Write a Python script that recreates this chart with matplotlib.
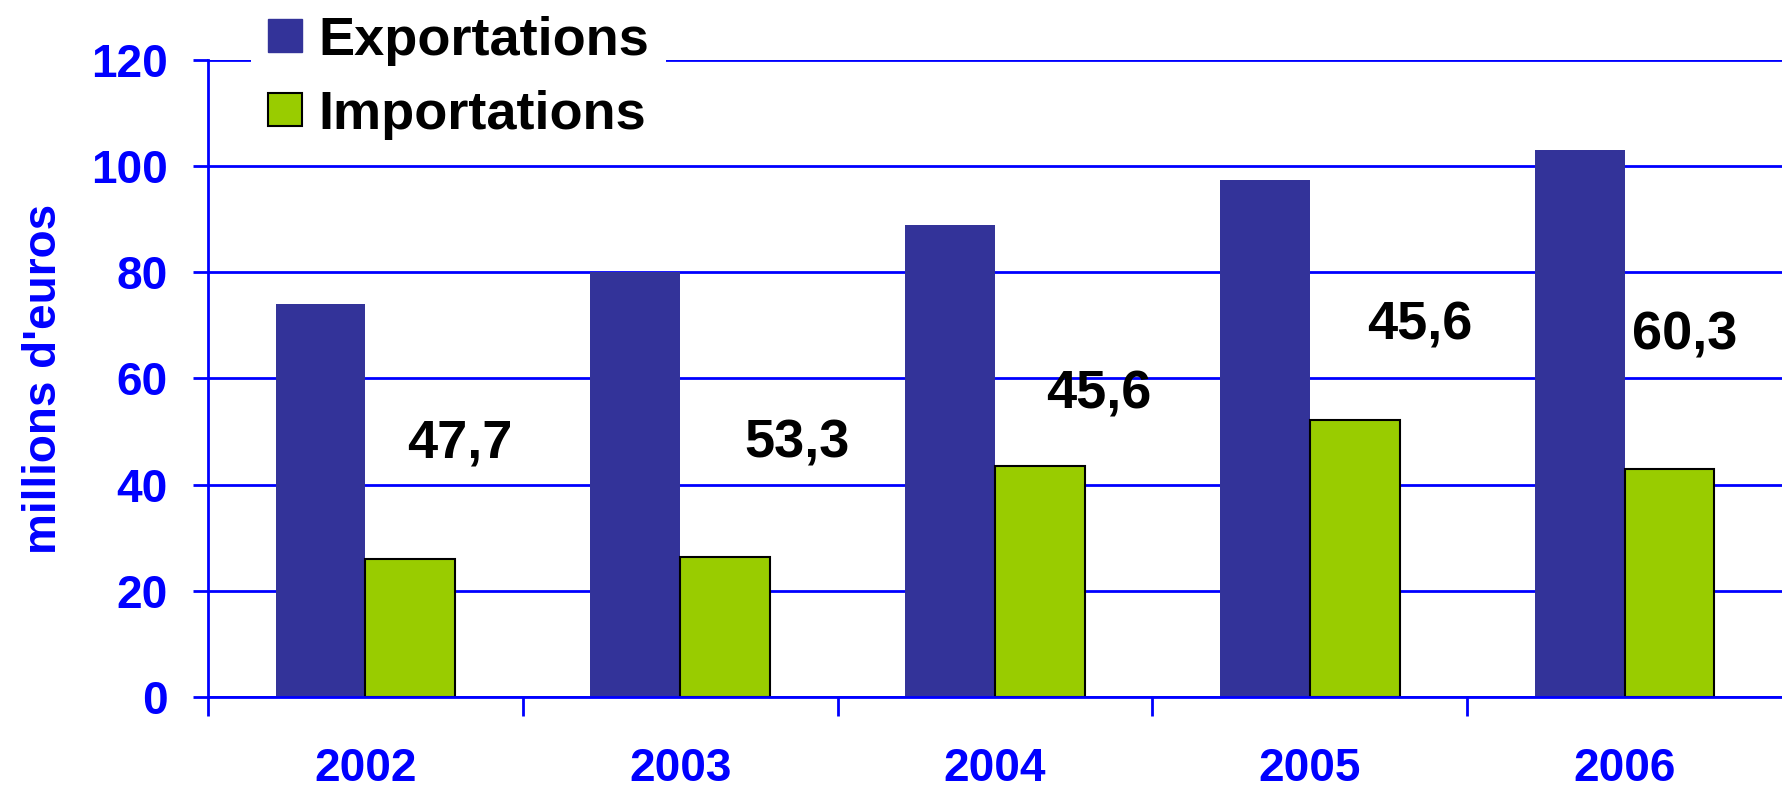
import matplotlib

matplotlib.use("Agg")
import matplotlib.pyplot as plt
import numpy as np
from matplotlib.patches import Patch

plt.rcParams["font.family"] = ["Liberation Sans", "DejaVu Sans"]
plt.rcParams["font.weight"] = "bold"

YEARS = ["2002", "2003", "2004", "2005", "2006"]
EXPORTS = [74.0, 80.0, 89.0, 97.5, 103.0]
IMPORTS = [26.0, 26.4, 43.5, 52.1, 42.9]

# floating value labels, placed as in the original slide
LABELS = ["47,7", "53,3", "45,6", "45,6", "60,3"]
LABEL_DX = [0.30, 0.37, 0.33, 0.35, 0.19]
LABEL_Y = [47.8, 47.8, 57.0, 69.9, 68.1]

BLUE = "#0000FF"
EXP_COLOR = "#333399"
IMP_COLOR = "#99CC00"

fig = plt.figure(figsize=(17.82, 7.91), dpi=100)
ax = fig.add_axes([0.1167, 0.119, 0.8833, 0.805])

x = np.arange(len(YEARS))
width = 0.285
ax.bar(x - width / 2, EXPORTS, width, color=EXP_COLOR, linewidth=0, zorder=2)
ax.bar(x + width / 2, IMPORTS, width, color=IMP_COLOR, edgecolor="black",
       linewidth=1.5, zorder=2)

for i, (text, dx, y) in enumerate(zip(LABELS, LABEL_DX, LABEL_Y)):
    ax.text(i + dx, y, text, ha="center", va="center", fontsize=39,
            fontweight="bold", color="black", zorder=3)

ax.set_xlim(-0.5, len(YEARS) - 0.5)
ax.set_ylim(0, 120)
ax.set_yticks(range(0, 121, 20))
ax.yaxis.grid(True, color=BLUE, linewidth=2)
ax.set_axisbelow(True)

ax.set_xticks(x)
ax.set_xticklabels(YEARS)
# category separators (the last one falls off the right edge in the original)
ax.set_xticks(np.arange(-0.5, len(YEARS) - 1, 1), minor=True)
ax.tick_params(axis="x", which="major", length=0, pad=36, labelsize=33,
               labelcolor=BLUE)
ax.tick_params(axis="x", which="minor", length=14, width=2, color=BLUE,
               direction="out")
ax.tick_params(axis="y", length=11, width=2, color=BLUE, pad=18,
               labelsize=33, labelcolor=BLUE)
for lbl in ax.get_xticklabels() + ax.get_yticklabels():
    lbl.set_fontweight("bold")

for side in ("top", "right"):
    ax.spines[side].set_visible(False)
for side in ("left", "bottom"):
    ax.spines[side].set_color(BLUE)
    ax.spines[side].set_linewidth(2)

ax.text(-0.104, 0.5, "millions d'euros", transform=ax.transAxes,
        rotation=90, ha="center", va="center", fontsize=33,
        fontweight="bold", color=BLUE)

handles = [Patch(facecolor=EXP_COLOR, edgecolor=EXP_COLOR),
           Patch(facecolor=IMP_COLOR, edgecolor="black", linewidth=1.5)]
leg = fig.legend(handles, ["Exportations", "Importations"], loc="center left",
                 bbox_to_anchor=(0.141, 0.9016), bbox_transform=fig.transFigure,
                 borderaxespad=0, borderpad=0.3, frameon=True, fancybox=False,
                 framealpha=1, facecolor="white", edgecolor="none",
                 fontsize=39, handlelength=0.63, handleheight=0.55,
                 handletextpad=0.31, labelspacing=0.44)
for t in leg.get_texts():
    t.set_fontweight("bold")

fig.savefig("out.png", dpi=100)
